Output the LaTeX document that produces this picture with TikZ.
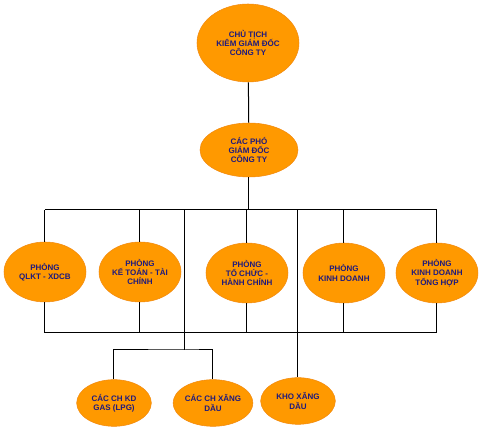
\documentclass[tikz,border=0pt]{standalone}
\usepackage{fontspec}
\setmainfont{Liberation Sans}
\usepackage{xcolor}
\usepackage{tikz}
\usetikzlibrary{shapes.geometric,calc}
\definecolor{cFill}  {HTML}{FF9900}
\definecolor{cEdge}  {HTML}{F28A10}
\definecolor{cText}  {HTML}{1E1A7E}

\begin{document}
\begin{tikzpicture}[x=0.75pt,y=-0.75pt,
    org/.style={ellipse,fill=cFill,draw=cEdge,line width=0.4pt,inner sep=0pt,
      align=center,text=cText,font=\fontsize{6}{7}\selectfont\bfseries},
    top/.style={org,minimum width=76.5pt,minimum height=58.5pt},
    mid/.style={org,minimum width=73.5pt,minimum height=40.5pt},
    dept/.style={org,minimum width=61.5pt,minimum height=45pt},
    unit/.style={org,minimum width=56pt,minimum height=35pt},
    conn/.style={line width=0.75pt,black}]
  \useasboundingbox (0,0) rectangle (480,434);
  % levels
  \node[top] (ct)  at (248,43)  {CHỦ TỊCH\\KIÊM GIÁM ĐỐC\\CÔNG TY};
  \node[mid] (pgd) at (249,150) {CÁC PHÓ\\GIÁM ĐỐC\\CÔNG TY};
  \node[dept] (qlkt)      at (45,272)  {PHÒNG\\QLKT - XDCB};
  \node[dept] (ketoan)    at (140,272) {PHÒNG\\KẾ TOÁN - TÀI\\CHÍNH};
  \node[dept] (tochuc)    at (247,273) {PHÒNG\\TỔ CHỨC -\\HÀNH CHÍNH};
  \node[dept] (kinhdoanh) at (344,273) {PHÒNG\\KINH DOANH};
  \node[dept] (tonghop)   at (437,273) {PHÒNG\\KINH DOANH\\TỔNG HỢP};
  \node[unit] (gas)  at (114,403) {CÁC CH KD\\GAS (LPG)};
  \node[unit] (xang) at (213,403) {CÁC CH XĂNG\\DẦU};
  \node[unit] (kho)  at (298,401) {KHO XĂNG\\DẦU};
  % bus lines
  \coordinate (busT) at (249,210);
  \coordinate (busB) at (249,333);
  \coordinate (tapA) at (185,210);
  \coordinate (tapB) at (298,210);
  \coordinate (split) at (185,350);
  \draw[conn] (ct) -- (pgd);
  \draw[conn] (pgd) -- (busT);
  \draw[conn] (qlkt.north |- busT) -- (tonghop.north |- busT);
  \draw[conn] (qlkt.south |- busB) -- (tonghop.south |- busB);
  \foreach \d in {qlkt,ketoan,tochuc,kinhdoanh,tonghop}
    {\draw[conn] (\d.north |- busT) -- (\d.north);
     \draw[conn] (\d.south) -- (\d.south |- busB);}
  \draw[conn] (tapA) -- (split);
  \draw[conn] (gas.north) |- (split) -| (xang.north);
  \draw[conn] (tapB) -- (kho.north);
\end{tikzpicture}
\end{document}
